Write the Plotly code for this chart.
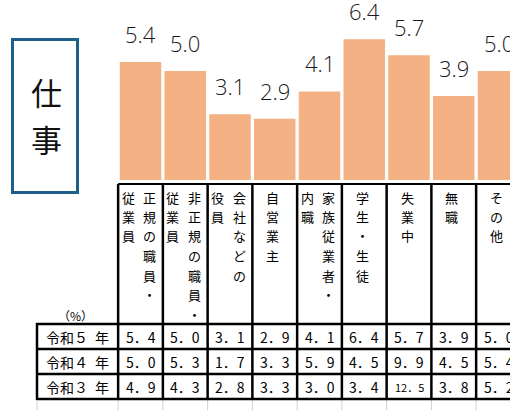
import plotly.graph_objects as go

# ---------------- data ----------------
categories = ["正規の職員・従業員", "非正規の職員・従業員", "会社などの役員", "自営業主",
              "家族従業者・内職", "学生・生徒", "失業中", "無職", "その他"]
# vertical label sub-columns, right to left
category_columns = [["正規の職員・", "従業員"], ["非正規の職員・", "従業員"], ["会社などの", "役員"],
                    ["自営業主"], ["家族従業者・", "内職"], ["学生・生徒"], ["失業中"], ["無職"], ["その他"]]
row_labels = ["令和５\u2002年", "令和４\u2002年", "令和３\u2002年"]
values_r5 = [5.4, 5.0, 3.1, 2.9, 4.1, 6.4, 5.7, 3.9, 5.0]
values_r4 = [5.0, 5.3, 1.7, 3.3, 5.9, 4.5, 9.9, 4.5, 5.4]
values_r3 = [4.9, 4.3, 2.8, 3.3, 3.0, 3.4, 12.5, 3.8, 5.2]
title_chars = ["仕", "事"]
unit_label = "（%）"

W, H = 510, 410
BAR = "#F4B183"
JP = "Noto Sans CJK JP"

def py(p):  # pixel-from-top -> paper y
    return 1 - p / H

def px(p):
    return p / W

fig = go.Figure()
fig.add_trace(go.Bar(x=categories, y=values_r5, marker=dict(color=BAR, line=dict(width=0)),
                     hoverinfo="skip"))

ann = []
shapes = []

def txt(**kw):
    base = dict(showarrow=False, xanchor="center", yanchor="middle")
    base.update(kw)
    ann.append(base)

# value labels above bars
for c, v in zip(categories, values_r5):
    txt(x=c, y=v, xref="x", yref="y", text=f"{v:.1f}", yanchor="bottom", yshift=11,
        font=dict(family="Open Sans", size=22, color="#1a1a1a", weight=350))

# title box
shapes.append(dict(type="rect", xref="paper", yref="paper", x0=px(12.5), x1=px(77.5),
                   y0=py(192.5), y1=py(39.5), line=dict(color="#1f5f8b", width=3)))
for k, ch in enumerate(title_chars):
    txt(x=px(46), y=py(92 + 46 * k), xref="paper", yref="paper", text=ch,
        font=dict(family=JP, size=31, color="#111111"))

# category vertical labels
for c, cols in zip(categories, category_columns):
    offs = [9, -12.5] if len(cols) == 2 else [-2]
    for col, off in zip(cols, offs):
        for k, ch in enumerate(col):
            txt(x=c, y=py(197 + 19.5 * k), xref="x", yref="paper", text=ch, xshift=off,
                font=dict(family=JP, size=13, color="#000000"))

LW = 2.5
# category header box lines
shapes.append(dict(type="line", xref="x", yref="paper", x0=-0.5, x1=9.5, y0=py(184), y1=py(184),
                   line=dict(color="black", width=2)))
for i in range(len(categories)):
    shapes.append(dict(type="line", xref="x", yref="paper", x0=i - 0.5, x1=i - 0.5,
                       y0=py(184), y1=py(399), line=dict(color="black", width=LW)))
    shapes.append(dict(type="line", xref="x", yref="paper", x0=i - 0.5, x1=i - 0.5,
                       y0=py(400), y1=py(410), line=dict(color="#d0d0d0", width=1)))
# table lines
for yy in [324, 349, 374, 399]:
    shapes.append(dict(type="line", xref="paper", yref="paper", x0=px(36), x1=1.1,
                       y0=py(yy), y1=py(yy), line=dict(color="black", width=LW)))
shapes.append(dict(type="line", xref="paper", yref="paper", x0=px(37), x1=px(37),
                   y0=py(323), y1=py(400), line=dict(color="black", width=LW)))
shapes.append(dict(type="line", xref="paper", yref="paper", x0=px(37), x1=px(37),
                   y0=py(400), y1=py(410), line=dict(color="#d0d0d0", width=1)))

txt(x=px(75), y=py(315), xref="paper", yref="paper", text=unit_label,
    font=dict(family=JP, size=12, color="#000000"))

rows = [values_r5, values_r4, values_r3]
for r, (lab, vals) in enumerate(zip(row_labels, rows)):
    yc = py(336.5 + 25 * r)
    txt(x=px(77), y=yc, xref="paper", yref="paper", text=lab,
        font=dict(family=JP, size=14, color="#000000"))
    for c, v in zip(categories, vals):
        s = f"{v:.1f}".replace(".", "．")
        txt(x=c, y=yc, xref="x", yref="paper", text=s,
            font=dict(family=JP, size=11 if v >= 10 else 14, color="#000000"))

x_lo = (0 - 140.5) / 44.75
x_hi = (W - 140.5) / 44.75
fig.update_layout(
    width=W, height=H, margin=dict(l=0, r=0, t=0, b=0),
    paper_bgcolor="white", plot_bgcolor="white", showlegend=False,
    bargap=0.073,
    xaxis=dict(type="category", categoryorder="array", categoryarray=categories,
               range=[x_lo, x_hi], visible=False, fixedrange=True),
    yaxis=dict(domain=[py(180), 1], range=[0.20, 8.13], visible=False, fixedrange=True),
    annotations=ann, shapes=shapes,
)
fig.write_html("out.html", config={"displayModeBar": False},
               post_script="document.body.style.margin='0';document.body.style.overflow='hidden';")
